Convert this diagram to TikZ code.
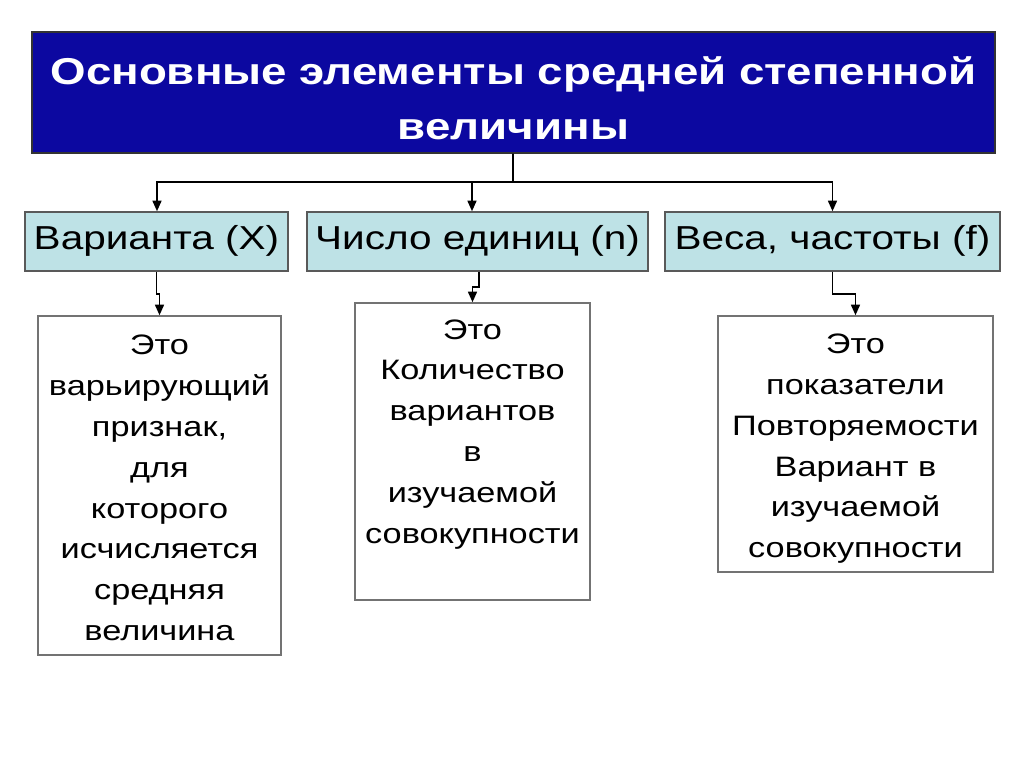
\documentclass[tikz,border=0pt]{standalone}
\usepackage{fontspec}
\usepackage{graphicx}
\setmainfont{Liberation Sans}
\usetikzlibrary{arrows.meta}
\definecolor{titleblue}{RGB}{12,8,160}
\definecolor{levelcyan}{RGB}{190,226,230}
% slide text is set a little wider than the font
\newcommand{\widebox}[1]{\scalebox{1.22}[1]{\begin{tabular}{@{}c@{}}#1\end{tabular}}}
\begin{document}
\begin{tikzpicture}[
    x=1cm,y=1cm,
    every node/.style={font=\fontsize{16pt}{23.2pt}\selectfont},
    frame/.style={draw=black!65, line width=0.8pt},
    header/.style={frame, draw=black!80, fill=titleblue,
        minimum width=19.26cm, minimum height=2.42cm},
    headtext/.style={inner sep=0pt, text=white,
        font=\fontsize{21.3pt}{31.2pt}\selectfont\bfseries},
    level/.style={frame, fill=levelcyan, minimum height=1.18cm,
        font=\fontsize{18.9pt}{22pt}\selectfont},
    card/.style={frame, draw=black!55, fill=white},
    body/.style={inner sep=0pt},
    link/.style={draw=black, line width=1.1pt},
    arrow/.style={link, -{Triangle[length=6pt,width=5pt]}}
]
    \useasboundingbox (0,0) rectangle (20.48,-15.34);

    % title
    \node[header] (title) at (10.27,-1.85) {};
    \node[headtext] (titletext) at ([yshift=-0.17cm]title.center)
        {\widebox{Основные элементы средней степенной\\величины}};

    % second level
    \node[level, minimum width=5.26cm] (varX)  at (3.13,-4.83)  {\widebox{Варианта (X)}};
    \node[level, minimum width=6.82cm] (numN)  at (9.55,-4.83)  {\widebox{Число единиц (n)}};
    \node[level, minimum width=6.70cm] (freqF) at (16.65,-4.83) {\widebox{Веса, частоты (f)}};

    \coordinate (hub) at (10.26,-3.64);
    \draw[link] ([xshift=-0.01cm]title.south) -- (hub);
    \draw[arrow] (hub) -| ([xshift=0.01cm]varX.north);
    \draw[arrow] (hub) -| ([xshift=-0.11cm]numN.north);
    \draw[arrow] (hub) -| (freqF.north);

    % description cards
    \node[card, minimum width=4.86cm, minimum height=6.78cm] (boxA) at (3.19,-9.71) {};
    \node[card, minimum width=4.70cm, minimum height=5.94cm] (boxB) at (9.45,-9.03) {};
    \node[card, minimum width=5.50cm, minimum height=5.12cm] (boxC) at (17.11,-8.88) {};

    \node[body] (textA) at ([yshift=-0.08cm]boxA.center)
        {\widebox{Это\\варьирующий\\признак,\\для\\которого\\исчисляется\\средняя\\величина}};
    \node[body] (textB) at ([yshift=0.37cm]boxB.center)
        {\widebox{Это\\Количество\\вариантов\\в\\изучаемой\\совокупности}};
    \node[body] (textC) at ([yshift=-0.07cm]boxC.center)
        {\widebox{Это\\показатели\\Повторяемости\\Вариант в\\изучаемой\\совокупности}};

    \draw[arrow] (varX.south) -- ++(0,-0.44) -| (boxA.north);
    \draw[arrow] ([xshift=0.03cm]numN.south) -- ++(0,-0.30) -| (boxB.north);
    \draw[arrow] (freqF.south) -- ++(0,-0.44) -| (boxC.north);
\end{tikzpicture}
\end{document}
